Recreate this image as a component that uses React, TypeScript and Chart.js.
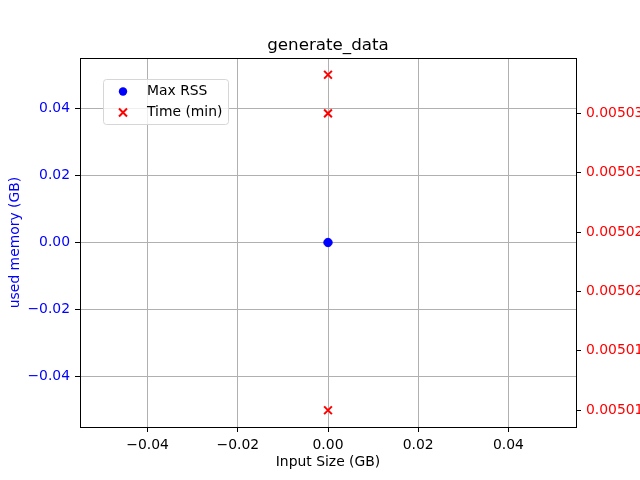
import { useEffect, useRef } from 'react';
import { Chart, registerables } from 'chart.js';

Chart.register(...registerables);

// Max RSS (GB) against input size (GB), left axis
const rssInputSize = [0];
const rssValues = [0];

// Time (min) against input size (GB), right axis
const timeInputSize = [0, 0, 0];
const timeValues = [0.0050326, 0.00503, 0.00501];

const xTicks = [-0.04, -0.02, 0, 0.02, 0.04];
const leftTicks = [-0.04, -0.02, 0, 0.02, 0.04];
const rightTicks = [0.00501, 0.005014, 0.005018, 0.005022, 0.005026, 0.00503];

const FONT = "'DejaVu Sans', sans-serif";

const fmt = (v: number) => (v < 0 ? '\u2212' : '') + Math.abs(v).toFixed(2);

// matplotlib-like frame, title over the axes and in-axes legend
const framePlugin = {
  id: 'frame',
  afterDraw(chart: any) {
    const { ctx, chartArea: a } = chart;
    ctx.save();
    ctx.strokeStyle = '#000';
    ctx.lineWidth = 1;
    ctx.strokeRect(Math.round(a.left) + 0.5, Math.round(a.top) + 0.5, Math.round(a.right - a.left), Math.round(a.bottom - a.top));

    ctx.fillStyle = '#000';
    ctx.font = `16.7px ${FONT}`;
    ctx.textAlign = 'center';
    ctx.textBaseline = 'alphabetic';
    ctx.fillText('generate_data', (a.left + a.right) / 2, 50);

    // legend box
    const bx = 103.5, by = 79.5, bw = 125, bh = 45, r = 3;
    ctx.globalAlpha = 0.8;
    ctx.fillStyle = '#fff';
    ctx.beginPath();
    ctx.roundRect(bx, by, bw, bh, r);
    ctx.fill();
    ctx.globalAlpha = 1;
    ctx.strokeStyle = '#d6d6d6';
    ctx.stroke();

    ctx.fillStyle = '#0000ff';
    ctx.beginPath();
    ctx.arc(123, 91.5, 4.2, 0, Math.PI * 2);
    ctx.fill();

    ctx.strokeStyle = '#ff0000';
    ctx.lineWidth = 2;
    ctx.beginPath();
    ctx.moveTo(119, 108.5); ctx.lineTo(127, 116.5);
    ctx.moveTo(127, 108.5); ctx.lineTo(119, 116.5);
    ctx.stroke();

    ctx.fillStyle = '#000';
    ctx.font = `13.9px ${FONT}`;
    ctx.textBaseline = 'middle';
    ctx.textAlign = 'left';
    ctx.fillText('Max RSS', 147, 91.5);
    ctx.fillText('Time (min)', 147, 112.5);
    ctx.restore();
  },
};

const App = () => {
  const chartRef = useRef<HTMLCanvasElement>(null);
  const chartInstance = useRef<Chart | null>(null);

  useEffect(() => {
    if (!chartRef.current) return;
    if (chartInstance.current) chartInstance.current.destroy();

    const tMin = Math.min(...timeValues);
    const tMax = Math.max(...timeValues);
    const margin = (tMax - tMin) * 0.05;

    chartInstance.current = new Chart(chartRef.current, {
      type: 'scatter',
      data: {
        datasets: [
          {
            label: 'Max RSS',
            data: rssInputSize.map((x, i) => ({ x, y: rssValues[i] })),
            backgroundColor: '#0000ff',
            borderColor: '#0000ff',
            pointRadius: 4.2,
            pointStyle: 'circle',
            yAxisID: 'y',
          },
          {
            label: 'Time (min)',
            data: timeInputSize.map((x, i) => ({ x, y: timeValues[i] })),
            backgroundColor: '#ff0000',
            borderColor: '#ff0000',
            borderWidth: 2,
            pointRadius: 5.5,
            pointStyle: 'crossRot',
            yAxisID: 'y1',
          },
        ],
      },
      plugins: [framePlugin],
      options: {
        responsive: false,
        animation: false,
        layout: { padding: { top: 58, left: 0, right: 0, bottom: 0 } },
        plugins: {
          legend: { display: false },
          tooltip: { enabled: false },
          title: { display: false },
        },
        scales: {
          x: {
            type: 'linear',
            min: -0.055,
            max: 0.055,
            afterBuildTicks: (s: any) => { s.ticks = xTicks.map(v => ({ value: v })); },
            afterFit: (s: any) => { s.height = 53; },
            ticks: {
              color: '#000',
              font: { family: FONT, size: 13.9 },
              padding: 5,
              maxRotation: 0,
              callback: (v: any) => fmt(Number(v)),
            },
            grid: { color: '#b0b0b0', tickColor: '#000', tickLength: 5, lineWidth: 1 },
            border: { display: false },
            title: {
              display: true,
              text: 'Input Size (GB)',
              color: '#000',
              font: { family: FONT, size: 13.9 },
              padding: { top: 2, bottom: 9.5 },
            },
          },
          y: {
            type: 'linear',
            position: 'left',
            min: -0.055,
            max: 0.055,
            afterBuildTicks: (s: any) => { s.ticks = leftTicks.map(v => ({ value: v })); },
            afterFit: (s: any) => { s.width = 80; },
            ticks: {
              color: '#0000ff',
              font: { family: FONT, size: 13.9 },
              padding: 5,
              callback: (v: any) => fmt(Number(v)),
            },
            grid: { color: '#b0b0b0', tickColor: '#000', tickLength: 5, lineWidth: 1 },
            border: { display: false },
            title: {
              display: true,
              text: 'used memory (GB)',
              color: '#0000ff',
              font: { family: FONT, size: 13.9 },
              padding: { top: 7, bottom: 0 },
            },
          },
          y1: {
            type: 'linear',
            position: 'right',
            min: tMin - margin,
            max: tMax + margin,
            afterBuildTicks: (s: any) => { s.ticks = rightTicks.map(v => ({ value: v })); },
            afterFit: (s: any) => { s.width = 64; },
            ticks: {
              color: '#ff0000',
              font: { family: FONT, size: 13.9 },
              padding: 5,
              callback: (v: any) => Number(v).toFixed(5),
            },
            grid: { drawOnChartArea: false, tickColor: '#000', tickLength: 5 },
            border: { display: false },
          },
        },
      },
    });

    return () => {
      if (chartInstance.current) {
        chartInstance.current.destroy();
        chartInstance.current = null;
      }
    };
  }, []);

  return (
    <div style={{ position: 'absolute', left: 0, top: 0, width: 640, height: 480, background: '#fff' }}>
      <canvas ref={chartRef} width={640} height={480} />
    </div>
  );
};

export default App;
